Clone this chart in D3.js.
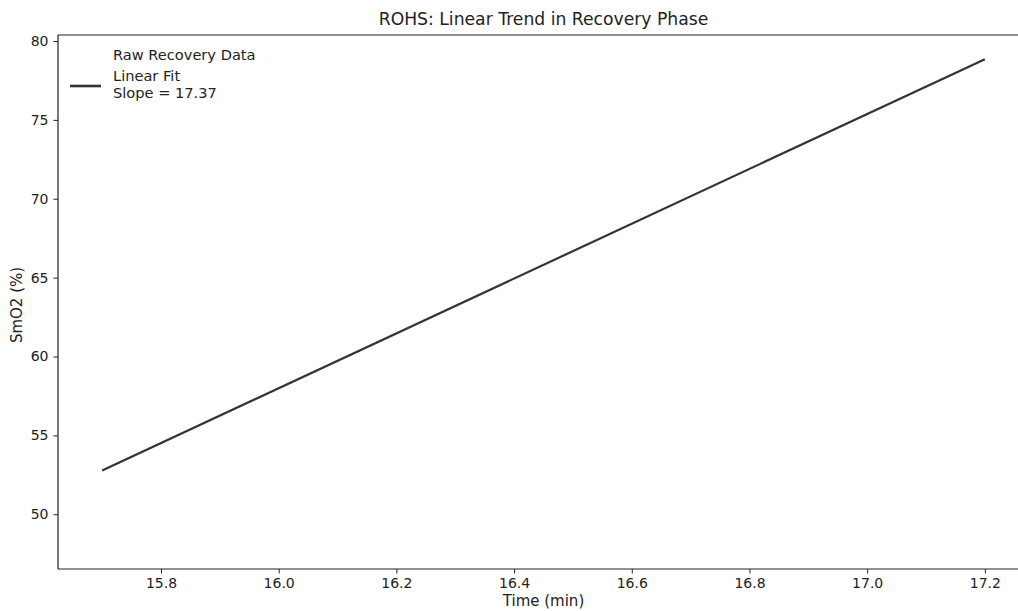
<!DOCTYPE html>
<html>
<head>
<meta charset="utf-8">
<script src="https://cdn.jsdelivr.net/npm/d3@7"></script>
<style>
  html, body { margin: 0; padding: 0; background: #fff; overflow: hidden; }
  svg { display: block; font-family: "DejaVu Sans", sans-serif; overflow: hidden; }
</style>
</head>
<body>
<svg id="chart" width="1018" height="611"></svg>
<script>
// ---- data ----
const fitTime = [15.70, 17.20];          // Time (min)
const fitSmO2 = [52.78, 78.84];          // SmO2 (%) linear fit
const slopeValue = 17.37;
const xTickValues = [15.8, 16.0, 16.2, 16.4, 16.6, 16.8, 17.0, 17.2];
const yTickValues = [50, 55, 60, 65, 70, 75, 80];
const titleText = "ROHS: Linear Trend in Recovery Phase";
const xLabelText = "Time (min)";
const yLabelText = "SmO2 (%)";
const legendLabels = ["Raw Recovery Data", "Linear Fit", "Slope = " + slopeValue.toFixed(2)];

// ---- layout ----
const svg = d3.select("#chart");
const plot = { left: 58, top: 35, right: 1029, bottom: 569 };
const visibleRight = 1018; // figure is cropped here; right spine is off-picture

// matplotlib-like 5% margins on x
const xr = [d3.min(fitTime), d3.max(fitTime)];
const xPad = (xr[1] - xr[0]) * 0.05;
const x = d3.scaleLinear().domain([xr[0] - xPad, xr[1] + xPad]).range([plot.left, plot.right]);
const y = d3.scaleLinear().domain([46.53, 80.38]).range([plot.bottom, plot.top]);

const tickFont = 14;
const labelFont = 15;
const legendFont = 14.6;
const ink = "#222";

// fit line
const pts = fitTime.map((t, i) => [t, fitSmO2[i]]);
svg.append("path")
  .datum(pts)
  .attr("fill", "none")
  .attr("stroke", "#333333")
  .attr("stroke-width", 2.2)
  .attr("d", d3.line().x(d => x(d[0])).y(d => y(d[1])));

// axes
const xAxis = svg.append("g")
  .attr("transform", `translate(0,${plot.bottom})`)
  .call(d3.axisBottom(x).tickValues(xTickValues).tickFormat(d3.format(".1f")).tickSize(4.5).tickPadding(5));
const yAxis = svg.append("g")
  .attr("transform", `translate(${plot.left},0)`)
  .call(d3.axisLeft(y).tickValues(yTickValues).tickFormat(d3.format("d")).tickSize(4.5).tickPadding(5));

[xAxis, yAxis].forEach(g => {
  g.select(".domain").remove();
  g.selectAll(".tick line").attr("stroke", ink).attr("stroke-width", 1);
  g.selectAll(".tick text").attr("fill", ink).style("font-size", tickFont + "px").style("font-family", "DejaVu Sans");
});

// spines: left, bottom, top (right spine lies beyond the picture edge)
const spines = [
  [plot.left, plot.top, plot.left, plot.bottom],
  [plot.left, plot.bottom, visibleRight, plot.bottom],
  [plot.left, plot.top, visibleRight, plot.top]
];
svg.selectAll("line.spine").data(spines).join("line")
  .attr("class", "spine")
  .attr("x1", d => d[0]).attr("y1", d => d[1]).attr("x2", d => d[2]).attr("y2", d => d[3])
  .attr("stroke", ink).attr("stroke-width", 1.2);

// title
svg.append("text")
  .attr("x", (plot.left + plot.right) / 2).attr("y", 25)
  .attr("text-anchor", "middle")
  .attr("fill", ink)
  .style("font-size", "17.2px")
  .text(titleText);

// x label
svg.append("text")
  .attr("x", (plot.left + plot.right) / 2).attr("y", 606)
  .attr("text-anchor", "middle")
  .attr("fill", ink)
  .style("font-size", labelFont + "px")
  .text(xLabelText);

// y label
svg.append("text")
  .attr("transform", `translate(22,${(plot.top + plot.bottom) / 2 + 3}) rotate(-90)`)
  .attr("text-anchor", "middle")
  .attr("fill", ink)
  .style("font-size", labelFont + "px")
  .text(yLabelText);

// legend (raw data entry has no visible handle)
const leg = svg.append("g");
leg.append("text").attr("x", 113).attr("y", 60).attr("fill", ink)
  .style("font-size", legendFont + "px").text(legendLabels[0]);
leg.append("line")
  .attr("x1", 70).attr("x2", 101).attr("y1", 86).attr("y2", 86)
  .attr("stroke", "#333333").attr("stroke-width", 2.6);
leg.append("text").attr("x", 113).attr("y", 81).attr("fill", ink)
  .style("font-size", legendFont + "px").text(legendLabels[1]);
leg.append("text").attr("x", 113).attr("y", 98).attr("fill", ink)
  .style("font-size", legendFont + "px").text(legendLabels[2]);
</script>
</body>
</html>
